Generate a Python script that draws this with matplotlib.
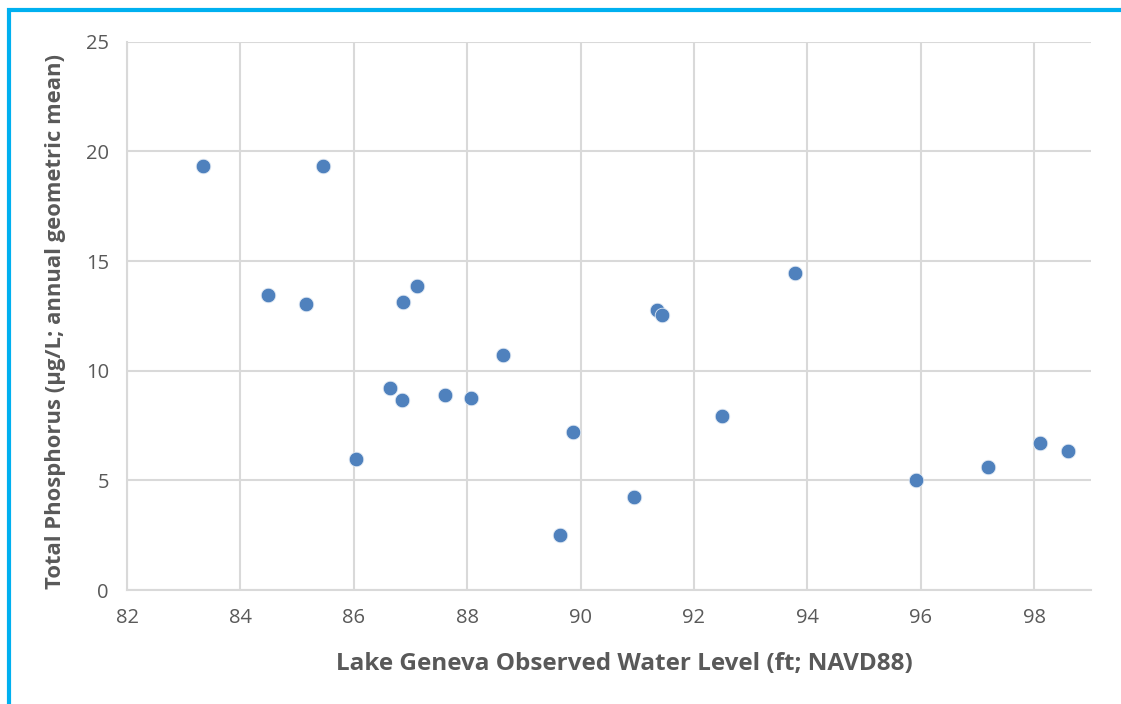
import numpy as np
import matplotlib.pyplot as plt
from matplotlib.patches import Rectangle

# observed water level (ft; NAVD88) and total phosphorus (ug/L)
level = [83.34, 85.46, 84.49, 85.16, 86.87, 87.12, 86.64, 86.85, 86.04, 87.61,
         88.07, 88.63, 89.87, 89.64, 90.95, 91.35, 91.44, 92.50, 93.79, 95.92,
         97.19, 98.11, 98.60]
tp = [19.34, 19.34, 13.46, 13.05, 13.14, 13.87, 9.22, 8.67, 5.98, 8.90,
      8.76, 10.72, 7.21, 2.51, 4.24, 12.77, 12.55, 7.94, 14.46, 5.02,
      5.61, 6.71, 6.34]

xticks = np.arange(82, 99, 2)
yticks = np.arange(0, 26, 5)

plt.rcParams['font.family'] = ['Open Sans', 'DejaVu Sans']

fig = plt.figure(figsize=(11.21, 7.04), dpi=100)
ax = fig.add_axes([0.1133, 0.1619, 0.973 - 0.1133, 0.9408 - 0.1619])

ax.scatter(level, tp, s=110, color='#4F81BD', edgecolors='#dfe8f3', linewidths=0.6, zorder=3)

ax.set_xlim(82, 99)
ax.set_ylim(0, 25)
ax.set_xticks(xticks)
ax.set_yticks(yticks)
ax.grid(True, color='#D9D9D9', linewidth=1.5)
ax.set_axisbelow(True)
for s in ['top', 'right']:
    ax.spines[s].set_visible(False)
for s in ['left', 'bottom']:
    ax.spines[s].set_color('#D9D9D9')
    ax.spines[s].set_linewidth(1.5)
ax.tick_params(length=0, labelsize=14.5, labelcolor='#595959', pad=13)

ax.set_xlabel('Lake Geneva Observed Water Level (ft; NAVD88)', fontsize=17.5,
              fontweight='bold', color='#595959', labelpad=17)
ax.set_ylabel('Total Phosphorus (µg/L; annual geometric mean)', fontsize=15.8,
              fontweight='bold', color='#595959', labelpad=14)
ax.xaxis.label.set_x(0.516)
ax.yaxis.label.set_y(0.49)

# blue frame around the chart
fig.patches.append(Rectangle((9 / 1121, -0.1), 1.2, 1 - 9.5 / 704 + 0.1,
                             transform=fig.transFigure, fill=False,
                             edgecolor='#00B0F0', linewidth=3))

fig.savefig('out.png', dpi=100)
